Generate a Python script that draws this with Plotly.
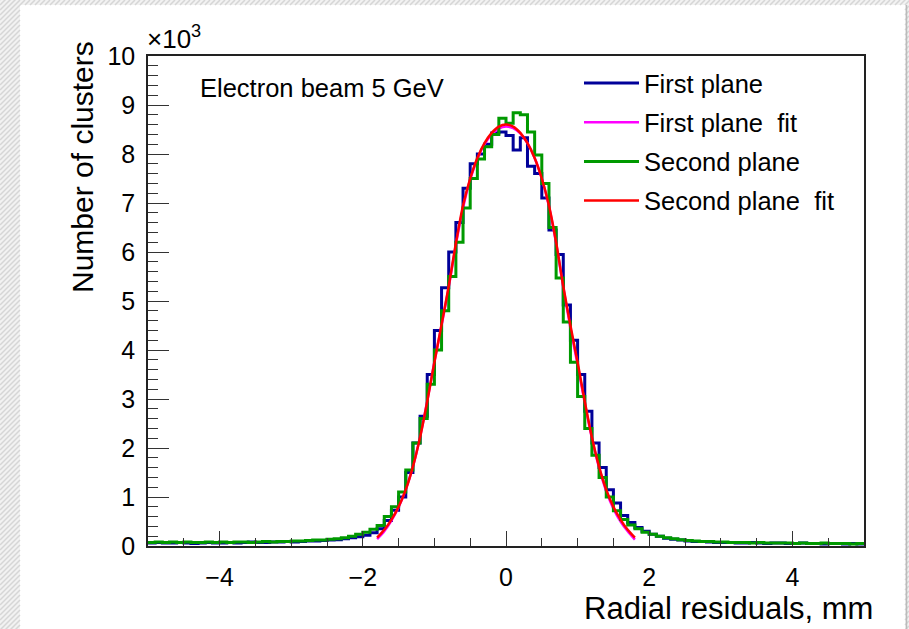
import numpy as np
import plotly.graph_objects as go

# ---------------- data (thousands of clusters per 0.1 mm bin) ----------------
bin_edges = np.linspace(-5.0, 5.0, 101)

first_plane = [
    0.06, 0.07, 0.06, 0.06, 0.07, 0.06, 0.05, 0.06, 0.07, 0.06,
    0.06, 0.07, 0.06, 0.07, 0.08, 0.07, 0.07, 0.08, 0.08, 0.09,
    0.08, 0.09, 0.10, 0.10, 0.11, 0.12, 0.13, 0.15, 0.17, 0.19,
    0.22, 0.27, 0.35, 0.52, 0.73, 1.00, 1.50, 2.10, 2.65, 3.50,
    4.40, 5.27, 6.00, 6.60, 7.30, 7.80, 8.00, 8.20, 8.43, 8.45,
    8.38, 8.08, 8.33, 7.75, 7.60, 7.10, 6.45, 5.95, 4.92, 4.20,
    3.50, 2.75, 2.10, 1.60, 1.15, 0.88, 0.62, 0.48, 0.38, 0.30,
    0.24, 0.20, 0.16, 0.14, 0.12, 0.10, 0.09, 0.09, 0.08, 0.07,
    0.07, 0.07, 0.06, 0.06, 0.07, 0.06, 0.05, 0.06, 0.06, 0.05,
    0.05, 0.06, 0.05, 0.05, 0.04, 0.05, 0.05, 0.04, 0.05, 0.04,
]

second_plane = [
    0.07, 0.08, 0.07, 0.08, 0.07, 0.08, 0.07, 0.07, 0.08, 0.07,
    0.08, 0.07, 0.08, 0.08, 0.07, 0.08, 0.09, 0.08, 0.09, 0.09,
    0.10, 0.10, 0.11, 0.12, 0.12, 0.14, 0.15, 0.17, 0.20, 0.24,
    0.28, 0.34, 0.42, 0.60, 0.80, 1.10, 1.55, 2.10, 2.60, 3.30,
    4.00, 4.80, 5.50, 6.20, 6.90, 7.50, 7.90, 8.15, 8.40, 8.73,
    8.63, 8.84, 8.80, 8.45, 7.98, 7.40, 6.50, 5.47, 4.57, 3.75,
    3.05, 2.40, 1.85, 1.40, 1.00, 0.72, 0.54, 0.43, 0.35, 0.28,
    0.24, 0.20, 0.17, 0.15, 0.13, 0.11, 0.10, 0.09, 0.09, 0.08,
    0.08, 0.07, 0.07, 0.07, 0.06, 0.07, 0.06, 0.06, 0.06, 0.06,
    0.05, 0.06, 0.05, 0.05, 0.06, 0.05, 0.05, 0.05, 0.04, 0.05,
]

fit_x = [-1.8, -1.7, -1.6, -1.5, -1.4, -1.3, -1.2, -1.1, -1.0, -0.9,
         -0.8, -0.7, -0.6, -0.5, -0.4, -0.3, -0.2, -0.1, 0.0, 0.1,
         0.2, 0.3, 0.4, 0.5, 0.6, 0.7, 0.8, 0.9, 1.0, 1.1,
         1.2, 1.3, 1.4, 1.5, 1.6, 1.7, 1.8]

first_plane_fit = [0.14, 0.30, 0.52, 0.79, 1.15, 1.62, 2.23, 2.96, 3.76, 4.50,
                   5.28, 6.15, 6.90, 7.48, 7.90, 8.20, 8.40, 8.52, 8.56, 8.53,
                   8.42, 8.22, 7.92, 7.50, 6.93, 6.18, 5.28, 4.45, 3.70, 2.92,
                   2.20, 1.60, 1.12, 0.76, 0.50, 0.30, 0.13]

second_plane_fit = [0.17, 0.33, 0.54, 0.80, 1.15, 1.62, 2.22, 2.95, 3.75, 4.52,
                    5.30, 6.18, 6.95, 7.50, 7.92, 8.22, 8.43, 8.56, 8.60, 8.56,
                    8.43, 8.22, 7.92, 7.50, 6.95, 6.20, 5.30, 4.50, 3.75, 2.95,
                    2.22, 1.62, 1.15, 0.80, 0.54, 0.33, 0.17]

x_tick_vals = [-4, -2, 0, 2, 4]
x_tick_text = ["\u22124", "\u22122", "0", "2", "4"]
y_tick_vals = [0, 1, 2, 3, 4, 5, 6, 7, 8, 9, 10]
y_tick_text = ["0", "1", "2", "3", "4", "5", "6", "7", "8", "9", "10"]

# ---------------- figure ----------------
W, H = 909, 629
ML, MR, MT, MB = 148, 45, 56, 83
PW, PH = W - ML - MR, H - MT - MB
FONT = "Liberation Sans, Arial, Helvetica, sans-serif"

BLUE = "#000099"
GREEN = "#009900"
MAGENTA = "#ff00ff"
RED = "#ff0000"

edges = list(bin_edges)

fig = go.Figure()
fig.add_trace(go.Scatter(
    x=edges, y=first_plane + [first_plane[-1]], mode="lines",
    line=dict(shape="hv", color=BLUE, width=3),
    name="First plane", legendgroup="a"))
fig.add_trace(go.Scatter(
    x=fit_x, y=first_plane_fit, mode="lines",
    line=dict(shape="spline", smoothing=0.8, color=MAGENTA, width=2.5),
    name="First plane\u00a0 fit", legendgroup="b"))
fig.add_trace(go.Scatter(
    x=edges, y=second_plane + [second_plane[-1]], mode="lines",
    line=dict(shape="hv", color=GREEN, width=3),
    name="Second plane", legendgroup="c"))
fig.add_trace(go.Scatter(
    x=fit_x, y=second_plane_fit, mode="lines",
    line=dict(shape="spline", smoothing=0.8, color=RED, width=2.5),
    name="Second plane\u00a0 fit", legendgroup="d"))


def px(x):
    return (x - ML) / PW


def py(y):
    return (H - MB - y) / PH


# hatched page border (decoration)
hatch = []
step = 5
for c in range(-10, H + 30, step):
    hatch.append(f"M{px(0):.5f},{py(c):.5f}L{px(20):.5f},{py(c - 20):.5f}")
for c in range(0, W + 10, step):
    hatch.append(f"M{px(c):.5f},{py(5):.5f}L{px(c + 5):.5f},{py(0):.5f}")
for c in range(-5, H + 10, step):
    hatch.append(f"M{px(905):.5f},{py(c):.5f}L{px(909):.5f},{py(c - 4):.5f}")

shapes = [
    dict(type="rect", xref="paper", yref="paper", x0=px(0), x1=px(20), y0=py(H), y1=py(0),
         fillcolor="#f2f2f2", line=dict(width=0), layer="below"),
    dict(type="rect", xref="paper", yref="paper", x0=px(0), x1=px(W), y0=py(5), y1=py(0),
         fillcolor="#f2f2f2", line=dict(width=0), layer="below"),
    dict(type="rect", xref="paper", yref="paper", x0=px(905), x1=px(W), y0=py(H), y1=py(0),
         fillcolor="#f2f2f2", line=dict(width=0), layer="below"),
    dict(type="path", xref="paper", yref="paper", path="".join(hatch),
         line=dict(color="#d6d6d6", width=1.5), layer="below"),
    dict(type="line", xref="paper", yref="paper", x0=px(906.5), x1=px(906.5), y0=py(5), y1=py(H),
         line=dict(color="#bbbbbb", width=1.5), layer="below"),
]

annotations = [
    dict(text="\u00d710<sup>3</sup>", xref="paper", yref="paper",
         x=px(145), y=py(56), xanchor="left", yanchor="bottom", showarrow=False,
         font=dict(family=FONT, size=26, color="black")),
    dict(text="Electron beam 5 GeV", xref="paper", yref="paper",
         x=px(198), y=py(88), xanchor="left", yanchor="middle", showarrow=False,
         font=dict(family=FONT, size=25.5, color="black")),
    dict(text="Radial residuals, mm", xref="paper", yref="paper",
         x=px(875), y=py(608), xanchor="right", yanchor="middle", showarrow=False,
         font=dict(family=FONT, size=31, color="black")),
    dict(text="Number of clusters", xref="paper", yref="paper", textangle=-90,
         x=px(82), y=py(167), xanchor="center", yanchor="middle", showarrow=False,
         font=dict(family=FONT, size=30, color="black")),
]

fig.update_layout(
    width=W, height=H,
    margin=dict(l=ML, r=MR, t=MT, b=MB, pad=0),
    paper_bgcolor="white", plot_bgcolor="white",
    font=dict(family=FONT, color="black"),
    showlegend=True,
    legend=dict(
        x=px(579), y=py(60), xanchor="left", yanchor="top",
        bgcolor="rgba(0,0,0,0)", borderwidth=0,
        font=dict(family=FONT, size=25.5, color="black"),
        traceorder="grouped", tracegroupgap=3, itemwidth=55,
    ),
    shapes=shapes,
    annotations=annotations,
    xaxis=dict(
        range=[-5, 5], showgrid=False, zeroline=False,
        showline=True, linecolor="#222222", linewidth=1.5, mirror=True,
        ticks="inside", ticklen=15, tickwidth=1.2, tickcolor="#333333",
        tickvals=x_tick_vals, ticktext=x_tick_text,
        tickfont=dict(family=FONT, size=25, color="black"),
        ticklabelstandoff=8,
        minor=dict(ticks="inside", ticklen=8, tickwidth=1.2, tickcolor="#333333",
                   tick0=-5, dtick=0.5),
    ),
    yaxis=dict(
        range=[0, 10], showgrid=False, zeroline=False,
        showline=True, linecolor="#222222", linewidth=1.5, mirror=True,
        ticks="inside", ticklen=21, tickwidth=1.2, tickcolor="#333333",
        tickvals=y_tick_vals, ticktext=y_tick_text,
        tickfont=dict(family=FONT, size=25, color="black"),
        ticklabelstandoff=6,
        minor=dict(ticks="inside", ticklen=10, tickwidth=1.2, tickcolor="#333333",
                   tick0=0, dtick=0.2),
    ),
)

fig.write_html(
    "out.html",
    config={"displayModeBar": False},
    post_script="document.body.style.margin='0';document.body.style.overflow='hidden';",
)
